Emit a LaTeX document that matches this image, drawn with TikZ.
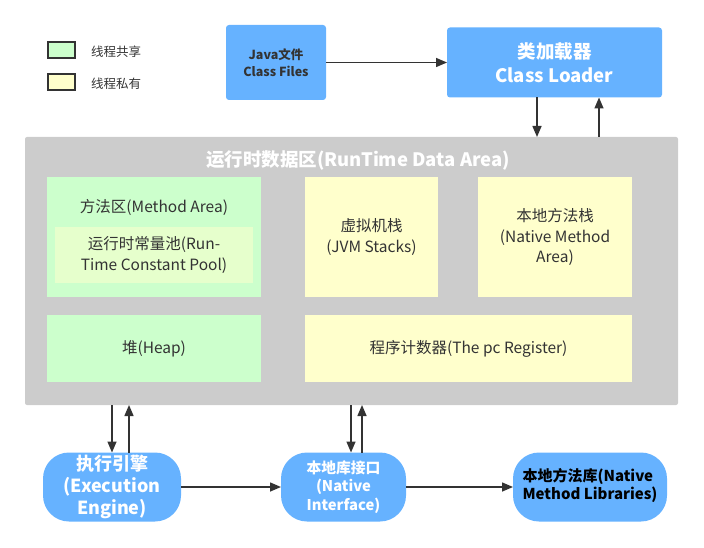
\documentclass[tikz,border=0pt]{standalone}
\usepackage{fontspec}
\setmainfont{Noto Sans CJK SC}
\usetikzlibrary{arrows.meta}
\definecolor{cblue}{HTML}{66B2FF}
\definecolor{cgray}{HTML}{CCCCCC}
\definecolor{cgreen}{HTML}{CCFFCC}
\definecolor{cgreenl}{HTML}{E6FFCC}
\definecolor{cyellow}{HTML}{FFFFCC}
\definecolor{ctext}{HTML}{333333}
\tikzset{
  base/.style={inner sep=0pt, outer sep=0pt, align=center, text=ctext},
  bluebox/.style={base, fill=cblue, rounded corners=3pt},
  pill/.style={base, fill=cblue, rounded corners=26pt},
  areabox/.style={base, font=\fontsize{15.5}{20.5}\selectfont},
  legendbox/.style={base, draw=ctext, line width=1.8pt, minimum width=27pt, minimum height=16pt},
  arr/.style={draw=ctext, line width=1.5pt, -{Triangle[length=11pt,width=9pt]}},
}
\begin{document}
\begin{tikzpicture}[x=1pt,y=-1pt]
\useasboundingbox (0,0) rectangle (704,548);
% legend
\node[legendbox, fill=cgreen] (lg1) at (61.5,50) {};
\node[legendbox, fill=cyellow] (lg2) at (61.5,82) {};
\node[base, anchor=west, font=\fontsize{12.5}{14}\selectfont, text=ctext] (lt1) at (91,52) {线程共享};
\node[base, anchor=west, font=\fontsize{12.5}{14}\selectfont, text=ctext] (lt2) at (91,84) {线程私有};
% top
\node[bluebox, minimum width=100pt, minimum height=75pt, font=\bfseries\fontsize{12.5}{17}\selectfont] (java) at (276,62.5) {Java文件\\Class Files};
\node[bluebox, minimum width=215pt, minimum height=70pt, text=white, font=\bfseries\fontsize{18.5}{24}\selectfont] (cl) at (554.5,62.5) {类加载器\\Class Loader};
\draw[arr] (java.east) -- (cl.west);
% runtime area
\node[base, fill=cgray, rounded corners=2pt, minimum width=653pt, minimum height=268pt] (rt) at (351.5,271) {};
\node[base, text=white, font=\bfseries\fontsize{18.5}{22}\selectfont] (rttitle) at (358,160) {运行时数据区(RunTime Data Area)};
\draw[arr] ([xshift=-17.5pt]cl.south) -- ([xshift=-17.5pt]cl.south |- rt.north);
\draw[arr] ([xshift=44.5pt]cl.south |- rt.north) -- ([xshift=44.5pt]cl.south);
% method area
\node[areabox, fill=cgreen, minimum width=214pt, minimum height=120pt] (ma) at (154,237) {};
\node[areabox] (matxt) at (154,207) {方法区(Method Area)};
\node[areabox, fill=cgreenl, minimum width=198pt, minimum height=55pt] (rcp) at (154,255) {运行时常量池(Run-\\Time Constant Pool)};
\node[areabox, fill=cyellow, minimum width=133pt, minimum height=120pt] (jvms) at (371.5,237) {虚拟机栈\\(JVM Stacks)};
\node[areabox, fill=cyellow, minimum width=154pt, minimum height=120pt] (nms) at (555,237) {本地方法栈\\(Native Method\\Area)};
\node[areabox, fill=cgreen, minimum width=214pt, minimum height=67pt] (heap) at (154,348.5) {堆(Heap)};
\node[areabox, fill=cyellow, minimum width=327pt, minimum height=67pt] (pc) at (468.5,348.5) {程序计数器(The pc Register)};
% bottom
\node[pill, minimum width=138pt, minimum height=69pt, text=white, font=\bfseries\fontsize{18}{22}\selectfont] (ee) at (112,487) {执行引擎\\(Execution\\Engine)};
\node[pill, minimum width=125pt, minimum height=69pt, text=white, font=\bfseries\fontsize{14.8}{18.5}\selectfont] (ni) at (343.5,487) {本地库接口\\(Native\\Interface)};
\node[pill, minimum width=154pt, minimum height=69pt, font=\bfseries\fontsize{15}{18}\selectfont, text=black] (nml) at (590,487) {\begin{tabular}{@{}l@{}}本地方法库(Native\\Method Libraries)\end{tabular}};
\draw[arr] (ee.north |- rt.south) -- (ee.north);
\draw[arr] ([xshift=17pt]ee.north) -- ([xshift=17pt]ee.north |- rt.south);
\draw[arr] ([xshift=7.5pt]ni.north |- rt.south) -- ([xshift=7.5pt]ni.north);
\draw[arr] ([xshift=18.5pt]ni.north) -- ([xshift=18.5pt]ni.north |- rt.south);
\draw[arr] (ee.east) -- (ni.west);
\draw[arr] (ni.east) -- (nml.west);
\end{tikzpicture}
\end{document}
